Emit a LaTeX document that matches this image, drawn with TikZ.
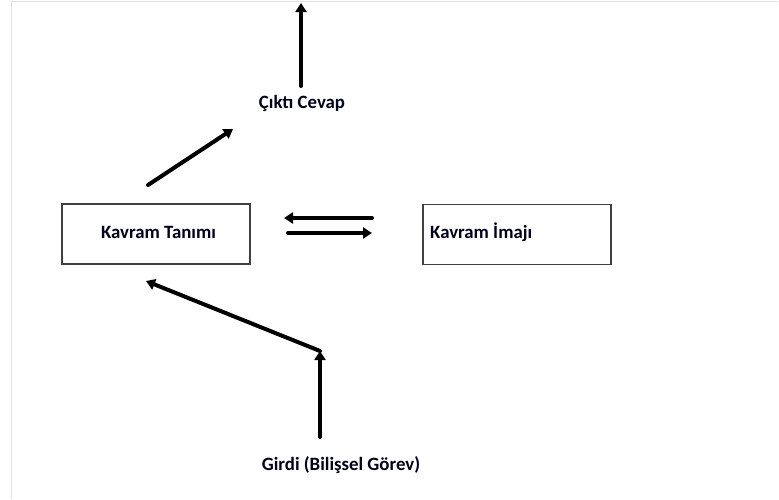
\documentclass[tikz,border=0pt]{standalone}
\usepackage{fontspec}
\setmainfont{Carlito}
\usetikzlibrary{arrows.meta}
\begin{document}
\begin{tikzpicture}[x=1pt,y=-1pt,
  box/.style={draw=black!75,line width=1.3pt,minimum width=188pt,minimum height=60pt,inner sep=0pt},
  lbl/.style={font=\fontsize{18.8}{22}\selectfont\bfseries,text=black!90!blue,inner sep=0pt},
  fat/.style={line width=4pt,line cap=round,-{Triangle[length=9pt,width=11pt]}},
  frame/.style={draw=black!12,line width=1pt}]
\useasboundingbox (0,0) rectangle (779,499);
\draw[frame] (11,499) -- (11,1.5) -- (778,1.5);
\node[box] (tanim) at (156,234) {};
\node[lbl] (tanimtxt) at (158.5,232) {Kavram Tanımı};
\node[box] (imaj) at (517,234.5) {};
\node[lbl,anchor=west] (imajtxt) at (430,232) {Kavram İmajı};
\node[lbl] (cikti) at (302,103) {Çıktı Cevap};
\node[lbl] (girdi) at (341,465) {Girdi (Bilişsel Görev)};
\coordinate (topS) at (301,86);
\coordinate (topE) at (301,3);
\coordinate (dS) at (148,185);
\coordinate (dE) at (233,129);
\coordinate (lS) at (372,218);
\coordinate (lE) at (284,218);
\coordinate (rS) at (288,233);
\coordinate (rE) at (372,233);
\coordinate (vS) at (320,437);
\coordinate (vE) at (320,351);
\coordinate (gE) at (146,281);
\draw[fat] (topS) -- (topE);
\draw[fat] (dS) -- (dE);
\draw[fat] (lS) -- (lE);
\draw[fat] (rS) -- (rE);
\draw[fat] (vS) -- (vE);
\draw[fat] (vE) -- (gE);
\end{tikzpicture}
\end{document}
